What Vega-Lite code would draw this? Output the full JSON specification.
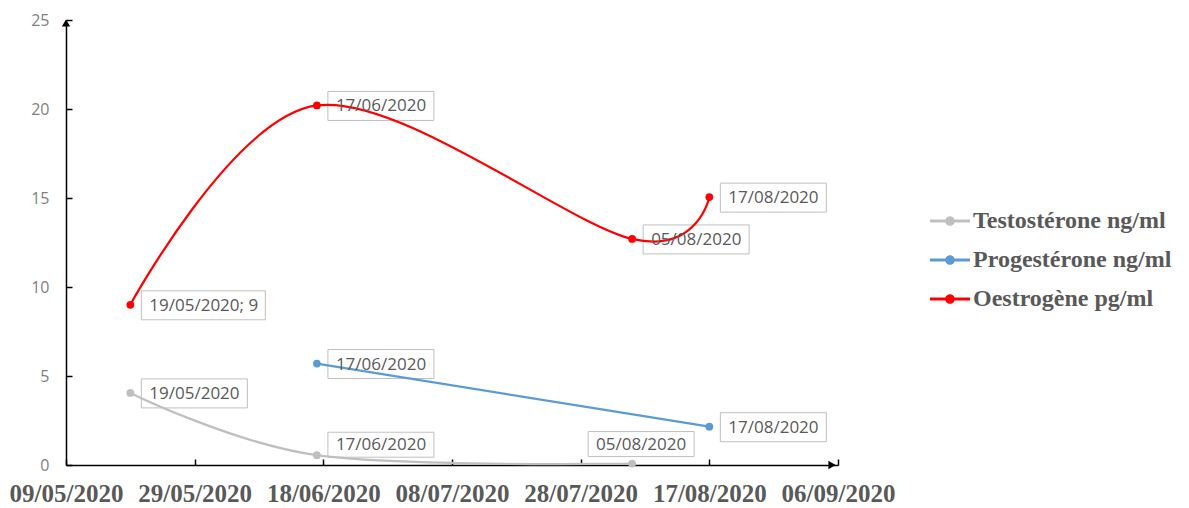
{
  "$schema": "https://vega.github.io/schema/vega-lite/v6.json",
  "width": 772,
  "height": 445,
  "autosize": {"type": "none"},
  "padding": {"left": 66, "top": 20, "right": 351, "bottom": 43},
  "background": "white",
  "config": {"view": {"stroke": null}, "font": "Open Sans"},
  "data": {
    "values": [
      {"series": "Testostérone ng/ml", "date": "2020-05-19", "value": 4.05, "label": "19/05/2020"},
      {"series": "Testostérone ng/ml", "date": "2020-06-17", "value": 0.55, "label": "17/06/2020"},
      {"series": "Testostérone ng/ml", "date": "2020-08-05", "value": 0.08, "label": "05/08/2020"},
      {"series": "Progestérone ng/ml", "date": "2020-06-17", "value": 5.7, "label": "17/06/2020"},
      {"series": "Progestérone ng/ml", "date": "2020-08-17", "value": 2.15, "label": "17/08/2020"},
      {"series": "Oestrogène pg/ml", "date": "2020-05-19", "value": 9, "label": "19/05/2020; 9"},
      {"series": "Oestrogène pg/ml", "date": "2020-06-17", "value": 20.2, "label": "17/06/2020"},
      {"series": "Oestrogène pg/ml", "date": "2020-08-05", "value": 12.7, "label": "05/08/2020"},
      {"series": "Oestrogène pg/ml", "date": "2020-08-17", "value": 15.05, "label": "17/08/2020"}
    ]
  },
  "encoding": {
    "x": {
      "field": "date",
      "type": "temporal",
      "scale": {
        "type": "utc",
        "domain": [
          {"year": 2020, "month": 5, "date": 9, "utc": true},
          {"year": 2020, "month": 9, "date": 6, "utc": true}
        ]
      },
      "axis": {
        "title": null,
        "values": [
          {"year": 2020, "month": 5, "date": 9, "utc": true},
          {"year": 2020, "month": 5, "date": 29, "utc": true},
          {"year": 2020, "month": 6, "date": 18, "utc": true},
          {"year": 2020, "month": 7, "date": 8, "utc": true},
          {"year": 2020, "month": 7, "date": 28, "utc": true},
          {"year": 2020, "month": 8, "date": 17, "utc": true},
          {"year": 2020, "month": 9, "date": 6, "utc": true}
        ],
        "labelExpr": "utcFormat(datum.value, '%d/%m/%Y')",
        "labelFont": "Liberation Serif",
        "labelFontWeight": "bold",
        "labelFontSize": 25,
        "labelColor": "#595959",
        "domainColor": "#000000",
        "domainWidth": 1.5,
        "tickColor": "#000000",
        "tickWidth": 1.5,
        "tickSize": -6,
        "labelPadding": 22,
        "grid": false,
        "labelOverlap": false,
        "labelFlush": false
      }
    },
    "y": {
      "field": "value",
      "type": "quantitative",
      "scale": {"domain": [0, 25], "nice": false},
      "axis": {
        "title": null,
        "values": [0, 5, 10, 15, 20, 25],
        "labelFont": "Open Sans",
        "labelFontSize": 16,
        "labelColor": "#7F7F7F",
        "domainColor": "#000000",
        "domainWidth": 1.5,
        "tickColor": "#000000",
        "tickWidth": 1.5,
        "tickSize": -6,
        "labelPadding": 23,
        "grid": false
      }
    }
  },
  "layer": [
    {
      "transform": [{"filter": "datum.label != '19/05/2020; 9' && !(datum.series == 'Testostérone ng/ml' && (datum.label == '17/06/2020' || datum.label == '05/08/2020'))"}],
      "mark": {"type": "rect", "fill": "white", "stroke": "#BFBFBF", "strokeWidth": 1, "xOffset": 11, "x2Offset": 117, "yOffset": -14, "y2Offset": 15},
      "encoding": {"x2": {"field": "date"}, "y2": {"field": "value"}}
    },
    {
      "transform": [{"filter": "datum.label == '19/05/2020; 9'"}],
      "mark": {"type": "rect", "fill": "white", "stroke": "#BFBFBF", "strokeWidth": 1, "xOffset": 11, "x2Offset": 135, "yOffset": -14, "y2Offset": 15},
      "encoding": {"x2": {"field": "date"}, "y2": {"field": "value"}}
    },
    {
      "transform": [{"filter": "datum.series == 'Testostérone ng/ml' && datum.label == '17/06/2020'"}],
      "mark": {"type": "rect", "fill": "white", "stroke": "#BFBFBF", "strokeWidth": 1, "xOffset": 11, "x2Offset": 117, "yOffset": -23, "y2Offset": 2},
      "encoding": {"x2": {"field": "date"}, "y2": {"field": "value"}}
    },
    {
      "transform": [{"filter": "datum.series == 'Testostérone ng/ml' && datum.label == '05/08/2020'"}],
      "mark": {"type": "rect", "fill": "white", "stroke": "#BFBFBF", "strokeWidth": 1, "xOffset": -44, "x2Offset": 62, "yOffset": -32, "y2Offset": -7},
      "encoding": {"x2": {"field": "date"}, "y2": {"field": "value"}}
    },
    {
      "mark": {"type": "line", "interpolate": "cardinal", "strokeWidth": 2.25},
      "encoding": {
        "color": {
          "field": "series",
          "type": "nominal",
          "scale": {"domain": ["Testostérone ng/ml", "Progestérone ng/ml", "Oestrogène pg/ml"], "range": ["#BFBFBF", "#5B9BD5", "#FF0000"]}
        }
      }
    },
    {
      "mark": {"type": "point", "filled": true, "size": 60, "opacity": 1},
      "encoding": {
        "color": {
          "field": "series",
          "type": "nominal",
          "scale": {"domain": ["Testostérone ng/ml", "Progestérone ng/ml", "Oestrogène pg/ml"], "range": ["#BFBFBF", "#5B9BD5", "#FF0000"]},
          "legend": {
            "orient": "none",
            "legendX": 864,
            "legendY": 181,
            "title": null,
            "symbolType": "M-1,-0.07H-0.2V0.07H-1Z M0.2,-0.07H1V0.07H0.2Z M0.24,0A0.24,0.24 0 1 1 -0.24,0A0.24,0.24 0 1 1 0.24,0Z",
            "symbolSize": 1600,
            "symbolStrokeWidth": 0,
            "symbolOpacity": 1,
            "labelFont": "Liberation Serif",
            "labelFontWeight": "bold",
            "labelFontSize": 24,
            "labelColor": "#595959",
            "labelOffset": 3,
            "labelLimit": 400,
            "rowPadding": 7,
            "padding": 0
          }
        }
      }
    },
    {
      "transform": [{"filter": "!(datum.series == 'Testostérone ng/ml' && (datum.label == '17/06/2020' || datum.label == '05/08/2020'))"}],
      "mark": {"type": "text", "align": "left", "baseline": "middle", "dx": 19, "dy": 1, "fontSize": 17, "color": "#595959"},
      "encoding": {"text": {"field": "label"}}
    },
    {
      "transform": [{"filter": "datum.series == 'Testostérone ng/ml' && datum.label == '17/06/2020'"}],
      "mark": {"type": "text", "align": "left", "baseline": "middle", "dx": 19, "dy": -10, "fontSize": 17, "color": "#595959"},
      "encoding": {"text": {"field": "label"}}
    },
    {
      "transform": [{"filter": "datum.series == 'Testostérone ng/ml' && datum.label == '05/08/2020'"}],
      "mark": {"type": "text", "align": "center", "baseline": "middle", "dx": 9, "dy": -19, "fontSize": 17, "color": "#595959"},
      "encoding": {"text": {"field": "label"}}
    },
    {
      "transform": [{"filter": "datum.label == '19/05/2020; 9'"}],
      "mark": {"type": "point", "shape": "triangle-up", "filled": true, "fill": "#000000", "size": 70, "opacity": 1, "yOffset": 3},
      "encoding": {
        "x": {"datum": {"year": 2020, "month": 5, "date": 9, "utc": true}, "type": "temporal"},
        "y": {"datum": 25, "type": "quantitative"}
      }
    },
    {
      "transform": [{"filter": "datum.label == '19/05/2020; 9'"}],
      "mark": {"type": "point", "shape": "triangle-right", "filled": true, "fill": "#000000", "size": 70, "opacity": 1, "xOffset": -6},
      "encoding": {
        "x": {"datum": {"year": 2020, "month": 9, "date": 6, "utc": true}, "type": "temporal"},
        "y": {"datum": 0, "type": "quantitative"}
      }
    }
  ]
}
